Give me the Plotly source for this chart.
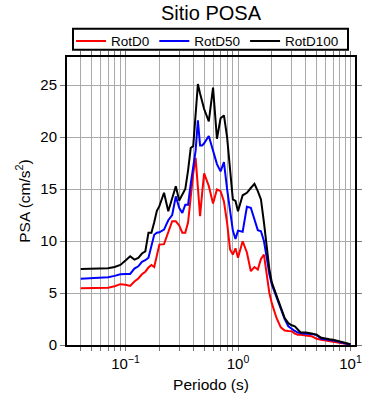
import plotly.graph_objects as go

periods = [0.04, 0.05, 0.06, 0.07, 0.08, 0.09, 0.1, 0.11, 0.12, 0.13, 0.14, 0.15, 0.16, 0.17,
           0.18, 0.19, 0.2, 0.22, 0.24, 0.26, 0.28, 0.3, 0.32, 0.34, 0.36, 0.38, 0.4, 0.42,
           0.44, 0.46, 0.48, 0.5, 0.55, 0.6, 0.65, 0.7, 0.75, 0.8, 0.85, 0.9, 0.95, 1.0,
           1.1, 1.2, 1.3, 1.4, 1.5, 1.6, 1.7, 1.8, 1.9, 2.0, 2.2, 2.4, 2.6, 2.8, 3.0, 3.2,
           3.4, 3.6, 3.8, 4.0, 4.5, 5.0, 5.5, 6.0, 6.5, 7.0, 7.5, 8.0, 8.5, 9.0, 9.5, 10.0]

rotd0 = [5.45, 5.47, 5.48, 5.5, 5.65, 5.85, 5.8, 5.68, 6.1, 6.4, 6.8, 7.05, 7.45, 7.7,
         7.5, 8.6, 9.66, 9.7, 10.9, 11.9, 11.9, 11.5, 10.8, 10.8, 11.8, 14.5, 16.5, 18.0,
         15.0, 12.4, 14.6, 16.5, 15.3, 13.6, 14.96, 14.8, 13.8, 11.75, 9.2, 8.7, 9.3, 8.4,
         9.98, 8.9, 7.1, 7.5, 7.25, 8.28, 8.7, 6.9, 5.0, 4.0, 2.6, 1.7, 1.4, 1.35, 1.32, 1.1,
         0.99, 0.99, 0.98, 0.92, 0.85, 0.6, 0.5, 0.42, 0.36, 0.32, 0.26, 0.2, 0.15, 0.12, 0.08, 0.06]

rotd50 = [6.36, 6.42, 6.48, 6.52, 6.65, 6.8, 6.84, 6.84, 7.35, 7.57, 8.0, 8.15, 8.4, 9.5,
          10.6, 10.8, 10.84, 11.1, 12.0, 12.5, 14.3, 13.2, 12.7, 13.5, 13.5, 15.5, 17.2, 18.7,
          21.6, 19.2, 19.2, 19.4, 20.1, 18.8, 17.4, 16.7, 17.6, 15.0, 12.9, 11.0, 10.2, 11.0,
          10.9, 13.3, 13.2, 12.0, 11.05, 10.94, 10.0, 8.4, 6.8, 5.8, 4.6, 3.45, 2.5, 1.8, 1.55, 1.35,
          1.2, 1.12, 1.1, 1.08, 1.05, 0.95, 0.6, 0.55, 0.5, 0.45, 0.38, 0.28, 0.2, 0.15, 0.1, 0.07]

rotd100 = [7.32, 7.34, 7.36, 7.38, 7.5, 7.7, 8.12, 8.53, 8.21, 8.38, 8.8, 9.0, 10.8, 10.8,
           11.8, 12.9, 13.35, 14.64, 12.87, 14.1, 15.27, 13.9, 14.4, 15.0, 16.8, 18.95, 19.13, 22.2,
           25.1, 24.2, 23.3, 22.7, 21.5, 24.75, 19.84, 21.8, 22.08, 20.0, 16.9, 14.0, 13.85, 12.87,
           14.4, 14.64, 15.1, 15.5, 14.8, 14.0, 11.8, 9.5, 7.3, 6.0, 4.8, 3.8, 2.6, 2.1, 1.9, 1.8,
           1.5, 1.2, 1.2, 1.2, 1.1, 1.0, 0.7, 0.6, 0.55, 0.5, 0.42, 0.35, 0.27, 0.2, 0.12, 0.08]

series_names = ["RotD0", "RotD50", "RotD100"]
series_colors = ["#ff0000", "#0000ff", "#000000"]

x_tickvals = [0.1, 1, 10]
x_ticktext = ["10<sup>−1</sup>", "10<sup>0</sup>", "10<sup>1</sup>"]
x_minor_vals = [0.03, 0.04, 0.05, 0.06, 0.07, 0.08, 0.09,
                0.2, 0.3, 0.4, 0.5, 0.6, 0.7, 0.8, 0.9,
                2, 3, 4, 5, 6, 7, 8, 9]
y_tickvals = [0, 5, 10, 15, 20, 25]

font_family = "Liberation Sans, Arial, sans-serif"

fig = go.Figure()
for name, vals, col in zip(series_names, [rotd0, rotd50, rotd100], series_colors):
    fig.add_trace(go.Scatter(x=periods, y=vals, mode="lines", name=name,
                             line=dict(color=col, width=2)))

grid_col = "#aaaaaa"
tick_col = "#777777"

# legend frame drawn as a shape so its size matches the reference
fig.add_shape(type="rect", xref="paper", yref="paper",
              x0=0.0208, x1=0.9757, y0=1.0253, y1=1.0983,
              line=dict(color="#000", width=2), fillcolor="rgba(0,0,0,0)", layer="above")

fig.update_layout(
    width=390, height=400,
    margin=dict(l=67, r=35, t=57, b=55),
    paper_bgcolor="white", plot_bgcolor="white",
    font=dict(family=font_family, color="#000000", size=15),
    title=dict(text="Sitio POSA", x=0.5, xref="paper", xanchor="center",
               y=0.9675, yref="container", yanchor="middle",
               font=dict(size=20, family=font_family, color="#000")),
    showlegend=True,
    legend=dict(orientation="h", x=0.014, xanchor="left", y=1.1087, yanchor="top",
                borderwidth=0, bgcolor="rgba(0,0,0,0)",
                font=dict(size=13.5, family=font_family),
                itemwidth=30, traceorder="normal"),
    xaxis=dict(type="log", range=[-1.52, 1.04],
               tickmode="array", tickvals=x_tickvals, ticktext=x_ticktext,
               ticks="outside", ticklen=4, tickcolor=tick_col, tickwidth=1,
               showgrid=True, gridcolor=grid_col, gridwidth=1,
               minor=dict(tickmode="array", tickvals=x_minor_vals, ticks="outside",
                          ticklen=4, tickcolor=tick_col, tickwidth=1,
                          showgrid=True, gridcolor=grid_col, gridwidth=1),
               showline=True, linecolor="#000", linewidth=2, mirror="ticks",
               zeroline=False, automargin=False,
               title=dict(text="Periodo (s)", font=dict(size=15.5), standoff=8),
               tickfont=dict(size=15)),
    yaxis=dict(range=[0, 27.7], tickvals=y_tickvals,
               ticks="outside", ticklen=5, tickcolor=tick_col, tickwidth=1,
               showgrid=True, gridcolor=grid_col, gridwidth=1,
               showline=True, linecolor="#000", linewidth=2, mirror="ticks",
               zeroline=False, automargin=False,
               title=dict(text="PSA (cm/s<sup>2</sup>)", font=dict(size=15.5), standoff=6),
               tickfont=dict(size=15)),
)

fig.write_html("out.html", config={"displayModeBar": False},
               post_script="document.body.style.margin='0';")
